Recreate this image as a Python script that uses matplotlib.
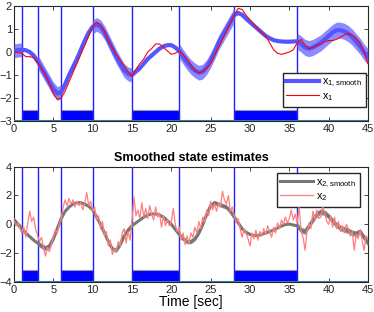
import numpy as np
import matplotlib
matplotlib.use("Agg")
import matplotlib.pyplot as plt

plt.rcParams['font.family'] = ['Liberation Sans', 'DejaVu Sans']

# intervals where the measurement is available (blue bars + vertical lines)
on_start = [1, 6, 15, 28]
on_end = [3, 10, 21, 36]
switch_times = [1, 3, 6, 10, 15, 21, 28, 36]
# intervals where the smoothed estimate is noisy
noisy_start = [0, 3, 10, 21, 36]
noisy_end = [1, 6, 15, 28, 45]
noisy_width1 = [0.3, 0.3, 0.3, 0.32, 0.35]
noisy_width2 = [0.18, 0.18, 0.15, 0.15, 0.2]

# time grid, 0.5 s
t_half = np.arange(0, 45.01, 0.5)

x1_smooth = [0.05, 0.08, 0.1, 0.08, 0.0, -0.15, -0.4, -0.7, -1.0, -1.3,
             -1.6, -1.8, -1.75, -1.4, -1.0, -0.65, -0.3, 0.1, 0.5, 0.85,
             1.1, 1.2, 1.1, 0.85, 0.5, 0.15, -0.2, -0.5, -0.8, -0.95,
             -1.0, -0.85, -0.7, -0.5, -0.3, -0.15, 0.0, 0.15, 0.25, 0.3,
             0.3, 0.2, 0.05, -0.2, -0.45, -0.65, -0.8, -0.9, -0.85, -0.65,
             -0.35, 0.0, 0.4, 0.7, 1.0, 1.3, 1.6, 1.7, 1.62, 1.45,
             1.3, 1.15, 1.0, 0.85, 0.7, 0.6, 0.52, 0.48, 0.46, 0.45,
             0.45, 0.46, 0.47, 0.35, 0.2, 0.15, 0.2, 0.3, 0.4, 0.55,
             0.7, 0.85, 0.95, 0.95, 0.9, 0.8, 0.65, 0.45, 0.25, 0.0,
             -0.2]

x1_true = [0.0, -0.02, -0.05, -0.2, -0.2, -0.25, -0.45, -0.7, -1.0, -1.4,
           -1.8, -2.05, -2.0, -1.7, -1.3, -0.9, -0.5, -0.1, 0.3, 0.7,
           1.1, 1.3, 1.2, 0.9, 0.5, 0.2, -0.1, -0.35, -0.6, -0.85,
           -1.05, -0.75, -0.5, -0.3, 0.0, 0.15, 0.35, 0.35, 0.2, 0.05,
           -0.1, -0.05, 0.05, -0.1, -0.3, -0.55, -0.8, -0.9, -0.85, -0.7,
           -0.5, -0.15, 0.2, 0.55, 0.9, 1.25, 1.6, 1.9, 1.85, 1.6,
           1.4, 1.2, 1.0, 0.85, 0.7, 0.4, 0.1, -0.05, -0.1, -0.05,
           0.0, 0.1, 0.4, 0.55, 0.3, 0.15, 0.2, 0.3, 0.35, 0.45,
           0.5, 0.5, 0.55, 0.65, 0.75, 0.8, 0.75, 0.6, 0.4, 0.0,
           -0.5]

x2_smooth = [0.3, 0.0, -0.3, -0.6, -0.85, -1.1, -1.3, -1.5, -1.65, -1.5,
             -1.0, -0.3, 0.4, 0.9, 1.2, 1.4, 1.5, 1.5, 1.4, 1.25,
             1.0, 0.5, 0.0, -0.6, -1.2, -1.7, -1.8, -1.4, -0.8, -0.4,
             -0.1, 0.1, 0.3, 0.5, 0.65, 0.72, 0.72, 0.65, 0.5, 0.25,
             0.0, -0.35, -0.7, -1.0, -1.2, -1.2, -1.0, -0.6, 0.0, 0.7,
             1.3, 1.5, 1.4, 1.3, 1.2, 0.9, 0.5, 0.1, -0.3, -0.55,
             -0.7, -0.78, -0.78, -0.7, -0.6, -0.5, -0.4, -0.25, -0.12, -0.02,
             0.02, -0.05, -0.1, -0.4, -0.5, -0.1, 0.3, 0.7, 0.88, 0.8,
             0.55, 0.25, -0.05, -0.25, -0.35, -0.45, -0.6, -0.65, -0.5, -0.9,
             -1.3]

# time grid, 0.25 s
t_quarter = np.arange(0, 45.01, 0.25)
x2_true = [0.2, -0.1, 0.1, -0.3, -0.6, -0.2, -0.9, 0.1,
           0.9, 0.2, 0.5, -0.3, -0.8, -1.2, -0.9, -1.6,
           -2.2, -1.6, -1.9, -1.4, -0.9, -0.4, -0.6, 0.0,
           0.4, 1.2, 1.7, 1.3, 1.8, 1.4, 1.7, 1.2,
           1.6, 1.3, 1.5, 1.0, 1.5, 2.2, 1.3, 1.6,
           0.9, 1.2, 0.3, 0.6, -0.3, 0.2, -0.8, -0.5,
           -1.5, -1.1, -2.1, -1.7, -1.9, -1.2, -1.5, -0.6,
           -0.3, -1.3, -0.5, -1.1, 0.2, 1.9, 0.6, 1.0,
           0.4, 1.5, 0.5, 1.1, 0.4, 1.3, 0.7, 0.3,
           1.2, 0.5, 0.8, -0.2, 0.6, -0.1, 0.3, -0.1,
           0.2, 1.1, 0.0, -0.5, -0.2, -1.1, -0.6, -1.4,
           -0.8, -1.3, -0.6, -0.9, -0.2, -0.6, 0.2, -0.3,
           0.5, 0.1, 1.0, 0.6, 1.6, 1.0, 1.4, 0.9,
           1.5, 1.2, 2.3, 1.7, 1.4, 2.0, 0.9, 1.2,
           0.6, 0.1, 0.4, -0.3, -0.9, -0.3, -0.6, -1.0,
           -1.5, -0.6, -1.0, -0.4, -1.1, -0.5, -0.8, -0.3,
           -0.7, -0.1, -0.5, -0.9, -0.2, -0.6, 0.1, -0.3,
           0.3, 0.0, 0.5, 0.1, 0.4, 1.0, 0.3, 0.7,
           0.1, 1.2, -0.5, -0.9, -1.8, -0.5, 0.1, -0.3,
           0.9, 0.3, 1.0, 0.4, 0.5, 1.2, 0.8, 0.2,
           0.0, 0.6, -0.2, 0.5, -0.3, 0.2, -0.5, -0.1,
           -0.6, 0.0, -0.3, -0.8, -0.5, -1.8, -0.7, -1.0,
           -0.4, -1.1, -1.8, -0.8, -1.0]

xticks = [0, 5, 10, 15, 20, 25, 30, 35, 40, 45]


def style_axes(ax, ylim, yticks):
    ax.set_xlim(0, 45)
    ax.set_ylim(*ylim)
    ax.set_xticks(xticks)
    ax.set_yticks(yticks)
    ax.tick_params(direction='in', length=3, width=0.6, top=True, right=True,
                   labelsize=8, pad=2, colors='#262626')
    ax.tick_params(axis='y', pad=1.5)
    for s in ax.spines.values():
        s.set_color('#262626')
        s.set_linewidth(0.8)


def draw_switches(ax, bottom, top):
    ax.bar(on_start, top - bottom, width=np.array(on_end) - np.array(on_start),
           bottom=bottom, align='edge', color='#0000ff', edgecolor='#999999',
           linewidth=0.8, zorder=2)
    for xs in switch_times:
        ax.axvline(xs, color='#2020ff', linewidth=1.0, zorder=3)
    ax.axhline(ax.get_ylim()[0], color='#2f7fa0', linewidth=1.5, zorder=4)


def noisy_band(ax, t, y, widths, color, alpha):
    t = np.asarray(t)
    y = np.asarray(y)
    for a, b, w in zip(noisy_start, noisy_end, widths):
        m = (t >= a) & (t <= b)
        ax.fill_between(t[m], y[m] - w, y[m] + w, color=color, alpha=alpha,
                        linewidth=0, zorder=4)


def style_legend(leg):
    leg.get_frame().set_edgecolor('#262626')
    leg.get_frame().set_linewidth(1.0)


fig = plt.figure(figsize=(3.74, 3.12), dpi=100)
ax1 = fig.add_axes([0.0374, 0.612, 0.9465, 0.3686])
ax2 = fig.add_axes([0.0374, 0.0962, 0.9465, 0.3696])

# upper plot
style_axes(ax1, (-3, 2), [-3, -2, -1, 0, 1, 2])
draw_switches(ax1, -3, -2.5)
noisy_band(ax1, t_half, x1_smooth, noisy_width1, '#5a5aff', 0.7)
ax1.plot(t_half, x1_smooth, color='#5555ff', linewidth=3, zorder=5,
         label=r'x$_{\mathregular{1,smooth}}$')
ax1.plot(t_half, x1_true, color='#ff0000', linewidth=0.8, zorder=6,
         label=r'x$_{\mathregular{1}}$')
leg1 = ax1.legend(loc='upper right', bbox_to_anchor=(0.994, 0.42),
                  borderaxespad=0, fontsize=7.8, fancybox=False, framealpha=1,
                  handlelength=3.0, handletextpad=0.3, borderpad=0.35,
                  labelspacing=0.15)
style_legend(leg1)

# lower plot
style_axes(ax2, (-4, 4), [-4, -2, 0, 2, 4])
draw_switches(ax2, -4, -3.2)
noisy_band(ax2, t_half, x2_smooth, noisy_width2, '#777777', 0.8)
ax2.plot(t_half, x2_smooth, color='#777777', linewidth=2.2, zorder=5,
         label=r'x$_{\mathregular{2,smooth}}$')
ax2.plot(t_quarter, x2_true, color='#ff7f7f', linewidth=0.9, zorder=6,
         label=r'x$_{\mathregular{2}}$')
leg2 = ax2.legend(loc='upper right', bbox_to_anchor=(0.977, 0.945),
                  borderaxespad=0, fontsize=7.8, fancybox=False, framealpha=1,
                  handlelength=3.0, handletextpad=0.3, borderpad=0.35,
                  labelspacing=0.15)
style_legend(leg2)
ax2.set_title('Smoothed state estimates', fontsize=9, fontweight='bold',
              pad=4)
ax2.set_xlabel('Time [sec]', fontsize=10, labelpad=0)

fig.savefig('out.png', dpi=100)
